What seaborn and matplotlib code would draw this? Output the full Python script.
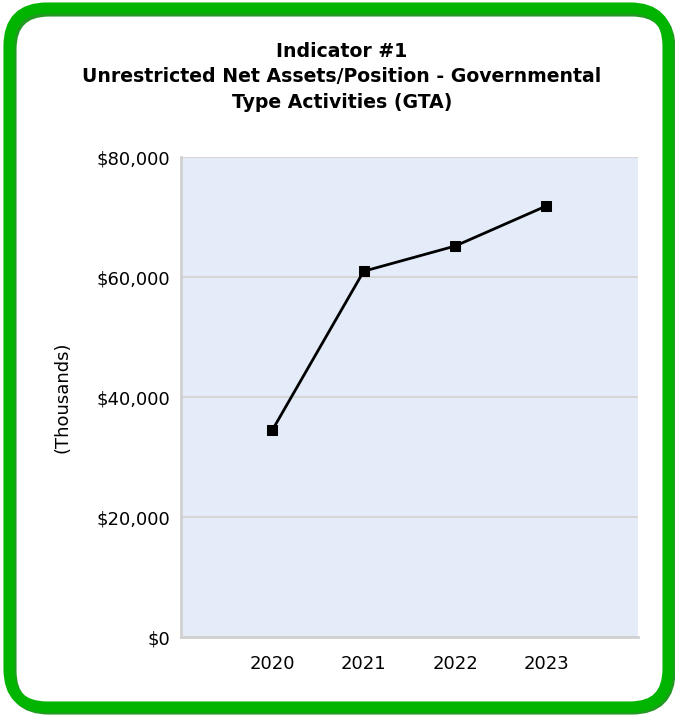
import pandas as pd
import seaborn as sns
import matplotlib.pyplot as plt
from matplotlib.patches import FancyBboxPatch
from matplotlib.transforms import IdentityTransform

sns.set_theme(style="white")
plt.rcParams['font.family'] = ['DejaVu Sans']
plt.rcParams['text.color'] = 'black'

years = [2020, 2021, 2022, 2023]
values = [34500, 61000, 65200, 71900]
yticks = [0, 20000, 40000, 60000, 80000]
ytick_labels = ['$0', '$20,000', '$40,000', '$60,000', '$80,000']

df = pd.DataFrame({'year': years, 'value': values})

fig = plt.figure(figsize=(6.75, 7.15), dpi=100)
ax = fig.add_axes([0.268, 0.109, 0.677, 0.671])
ax.set_facecolor('#E5ECF9')

sns.lineplot(x='year', y='value', data=df, ax=ax, color='black', linewidth=2,
             marker='s', markersize=7.5, markeredgecolor='black', zorder=3)

ax.set_xlim(2019, 2024)
ax.set_ylim(0, 80000)
ax.set_xticks(range(2019, 2025))
ax.set_xticklabels([''] + [str(y) for y in years] + [''])
ax.set_yticks(yticks)
ax.set_yticklabels(ytick_labels)
ax.yaxis.grid(True, color='#D6D6D6', linewidth=1.5)
ax.set_axisbelow(True)

for s in ['top', 'right']:
    ax.spines[s].set_visible(False)
for s in ['left', 'bottom']:
    ax.spines[s].set_color('#D0D0D0')
    ax.spines[s].set_linewidth(2)

ax.tick_params(axis='both', which='both', length=6, width=1.5, color='#D0D0D0',
               labelsize=13, labelcolor='black', pad=3, direction='out')
ax.tick_params(axis='x', pad=7)
ax.tick_params(axis='y', length=5)
ax.set_xlabel('')
ax.set_ylabel('(Thousands)', fontsize=13, labelpad=18, color='black')

fig.text(342 / 675, 1 - 77 / 715,
         'Indicator #1\nUnrestricted Net Assets/Position - Governmental\nType Activities (GTA)',
         ha='center', va='center', fontsize=13.6, fontweight='bold', linespacing=1.42)

# green rounded frame with a slight shadow on the bottom/right
shadow = FancyBboxPatch((11, 6), 659, 698, boxstyle='round,pad=0,rounding_size=38',
                        transform=IdentityTransform(), facecolor='none',
                        edgecolor='#229A22', linewidth=8, zorder=0)
frame = FancyBboxPatch((9, 8), 659, 699, boxstyle='round,pad=0,rounding_size=38',
                       transform=IdentityTransform(), facecolor='none',
                       edgecolor='#00B400', linewidth=8, zorder=1)
fig.patches.extend([shadow, frame])

fig.savefig('out.png', dpi=100)
